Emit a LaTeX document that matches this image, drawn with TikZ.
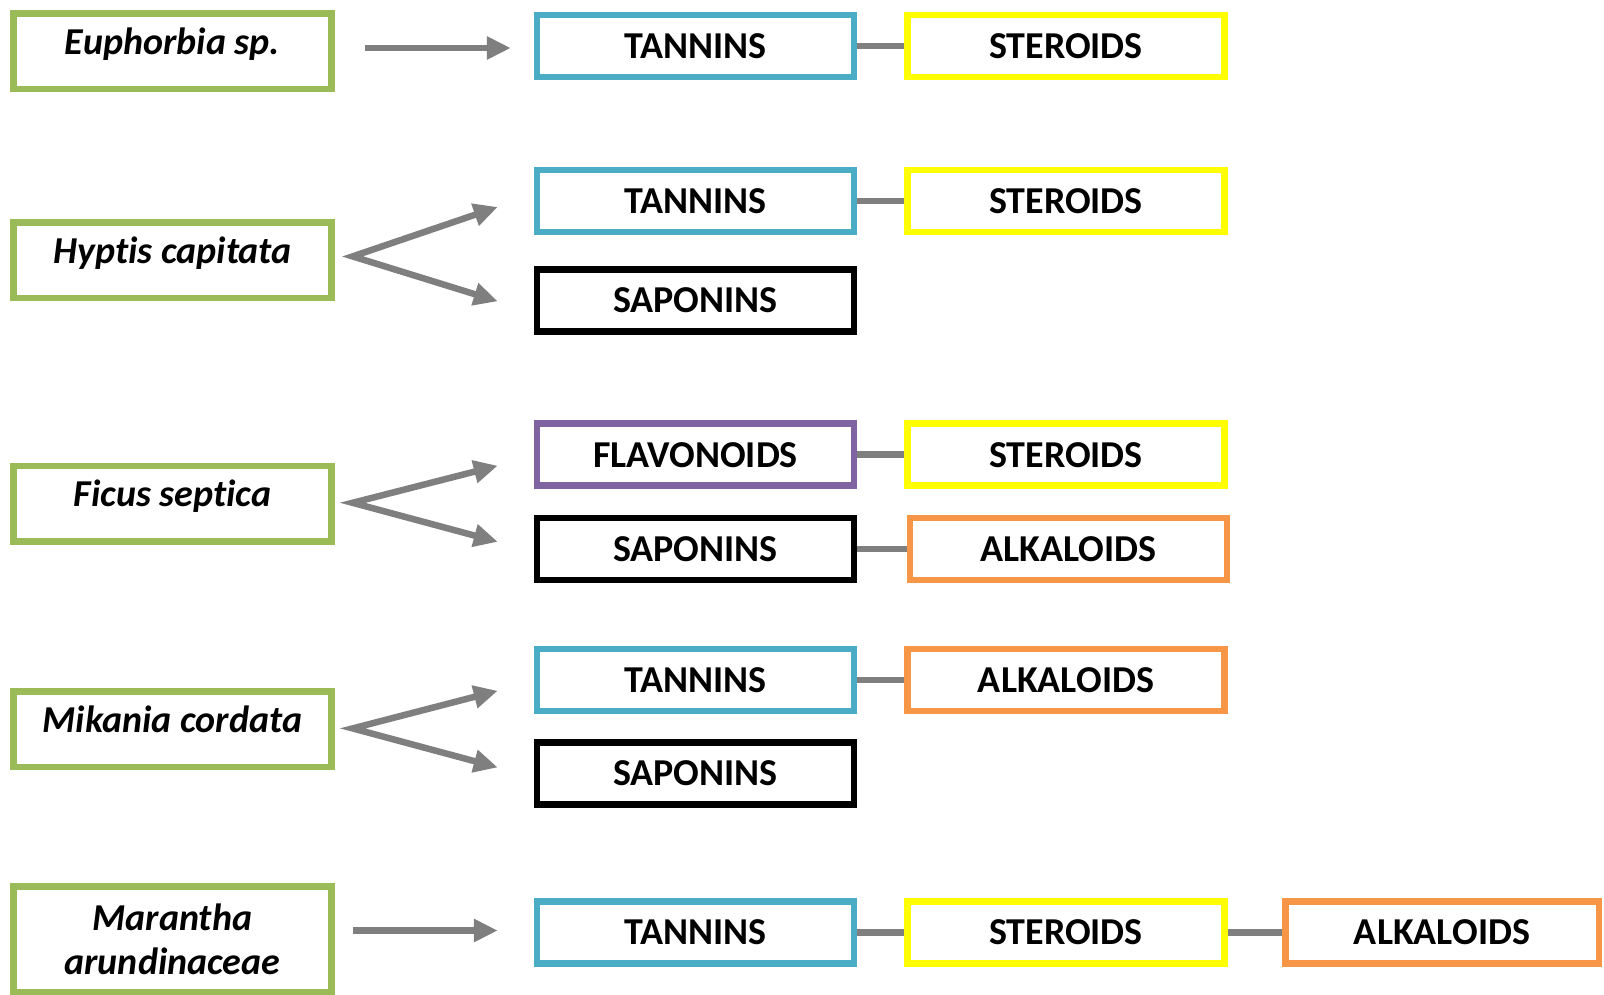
\documentclass[tikz,border=0pt]{standalone}
\usepackage{fontspec}
\setmainfont{Carlito}[Ligatures=NoCommon]
\usetikzlibrary{arrows.meta,calc}
\definecolor{leaf}{HTML}{9BBB59}
\definecolor{aqua}{HTML}{4BACC6}
\definecolor{sun}{HTML}{FFFF00}
\definecolor{plum}{HTML}{8064A2}
\definecolor{tang}{HTML}{F79646}
\definecolor{steel}{HTML}{7F7F7F}
\begin{document}
\begin{tikzpicture}[x=1pt,y=-1pt,
  species/.style={draw=leaf, line width=6.5pt, minimum width=318pt, minimum height=75.5pt,
    inner sep=0pt, font=\fontsize{38}{44}\selectfont\bfseries\itshape,
    text height=26pt, text depth=20pt},
  compound/.style={line width=6.5pt, minimum width=317pt, minimum height=62pt,
    inner sep=0pt, font=\fontsize{38}{44}\selectfont\bfseries},
  tannin/.style={compound, draw=aqua},
  steroid/.style={compound, draw=sun},
  saponin/.style={compound, draw=black},
  flavonoid/.style={compound, draw=plum},
  alkaloid/.style={compound, draw=tang},
  arr/.style={draw=steel, line width=6.5pt, line join=miter,
    -{Triangle[length=24pt,width=22pt]}},
  arrtwo/.style={draw=steel, line width=6.5pt, line join=miter,
    {Triangle[length=24pt,width=22pt]}-{Triangle[length=24pt,width=22pt]}},
  link/.style={draw=steel, line width=6.5pt}]
\useasboundingbox (0,0) rectangle (1604,994);

% plant species
\node[species] (euph) at (172.4,51.2) {Euphorbia sp.};
\node[species] (hyp) at (172.4,260.4) {Hyptis capitata};
\node[species] (fic) at (172.4,503.8) {Ficus septica};
\node[species] (mik) at (172.4,729.4) {Mikania cordata};
\node[draw=leaf, line width=6.5pt, minimum width=318pt, minimum height=105.5pt,
  inner sep=0pt, align=center, font=\fontsize{38}{44}\selectfont\bfseries\itshape]
  (mar) at (172.4,939) {Marantha\\arundinaceae};

% compounds found in each species
\node[tannin] (tan1) at (695.5,46) {TANNINS};
\node[steroid] (ste1) at (1066,46) {STEROIDS};

\node[tannin] (tan2) at (695.5,201) {TANNINS};
\node[steroid] (ste2) at (1066,201) {STEROIDS};
\node[saponin] (sap2) at (695.5,300.3) {SAPONINS};

\node[flavonoid] (fla3) at (695.5,454.7) {FLAVONOIDS};
\node[steroid] (ste3) at (1066,454.7) {STEROIDS};
\node[saponin] (sap3) at (695.5,548.8) {SAPONINS};
\node[alkaloid] (alk3) at (1068.5,548.8) {ALKALOIDS};

\node[tannin] (tan4) at (695.5,679.8) {TANNINS};
\node[alkaloid] (alk4) at (1066,679.8) {ALKALOIDS};
\node[saponin] (sap4) at (695.5,773.4) {SAPONINS};

\node[tannin] (tan5) at (695.5,932.5) {TANNINS};
\node[steroid] (ste5) at (1066,932.5) {STEROIDS};
\node[alkaloid, minimum width=313.5pt] (alk5) at (1442,932.5) {ALKALOIDS};

% arrow ends
\coordinate (s1) at ($(euph.east |- tan1.west)+(30,2)$);
\coordinate (e1) at ($(tan1.west)+(-23,2)$);
\coordinate (v2) at ($(hyp.east)+(18,-4)$);
\coordinate (t2a) at ($(tan2.west)+(-36,6)$);
\coordinate (t2b) at ($(sap2.west)+(-36,1)$);
\coordinate (v3) at ($(fic.east)+(18,-1)$);
\coordinate (t3a) at ($(fla3.west)+(-36,11)$);
\coordinate (t3b) at ($(sap3.west)+(-36,-7)$);
\coordinate (v4) at ($(mik.east)+(18,-1)$);
\coordinate (t4a) at ($(tan4.west)+(-36,11)$);
\coordinate (t4b) at ($(sap4.west)+(-36,-6)$);
\coordinate (s5) at ($(mar.east |- tan5.west)+(18,-2)$);
\coordinate (e5) at ($(tan5.west)+(-36,-2)$);

% arrows from species to compounds
\draw[arr] (s1) -- (e1);
\draw[arrtwo] (t2a) -- (v2) -- (t2b);
\draw[arrtwo] (t3a) -- (v3) -- (t3b);
\draw[arrtwo] (t4a) -- (v4) -- (t4b);
\draw[arr] (s5) -- (e5);

% links between co-occurring compounds
\draw[link] (tan1) -- (ste1);
\draw[link] (tan2) -- (ste2);
\draw[link] (fla3) -- (ste3);
\draw[link] (sap3) -- (alk3);
\draw[link] (tan4) -- (alk4);
\draw[link] (tan5) -- (ste5);
\draw[link] (ste5) -- (alk5);
\end{tikzpicture}
\end{document}
